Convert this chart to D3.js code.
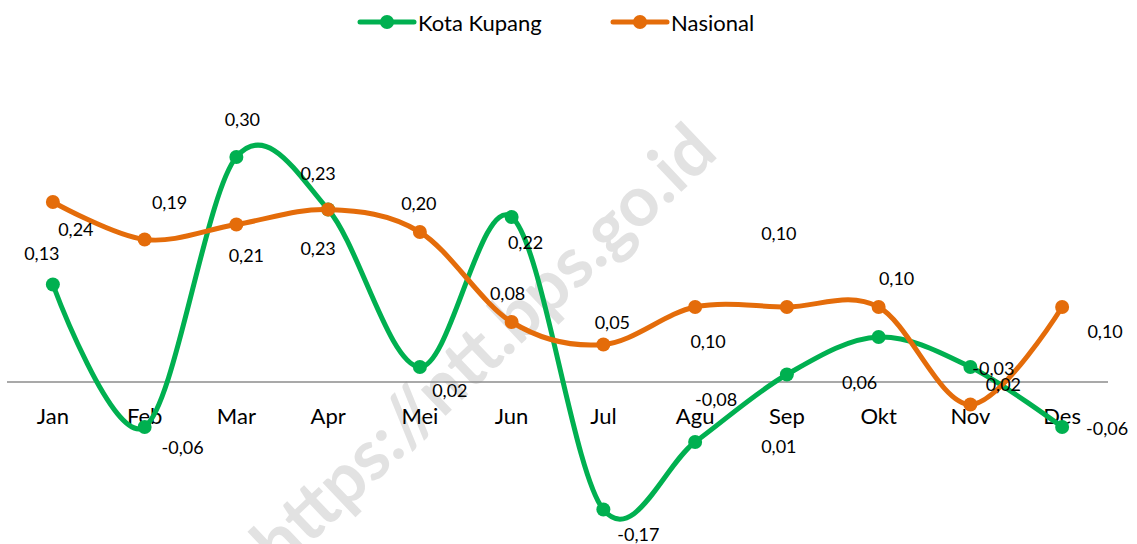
<!DOCTYPE html>
<html>
<head>
<meta charset="utf-8">
<script src="https://cdn.jsdelivr.net/npm/d3@7"></script>
<style>
  body { margin: 0; background: #fff; }
  svg text { font-family: Lato, "Open Sans", sans-serif; fill: #000; }
</style>
</head>
<body>
<svg width="1137" height="544"></svg>
<script>
var months = ["Jan", "Feb", "Mar", "Apr", "Mei", "Jun", "Jul", "Agu", "Sep", "Okt", "Nov", "Des"];
var kotaKupang = [0.13, -0.06, 0.30, 0.23, 0.02, 0.22, -0.17, -0.08, 0.01, 0.06, 0.02, -0.06];
var nasional = [0.24, 0.19, 0.21, 0.23, 0.20, 0.08, 0.05, 0.10, 0.10, 0.10, -0.03, 0.10];
var seriesNames = ["Kota Kupang", "Nasional"];

// label placement (dx, dy from the point), as in the source chart
var kotaLabelPos = [[-11,-32],[38,20],[6,-38],[-10,-37],[30,23],[14,25],[35,24],[21,-43],[-8,71],[-19,45],[33,17],[45,1]];
var nasLabelPos = [[23,27],[25,-38],[10,30],[-10,38],[-1,-29],[-4,-29],[9,-23],[13,34],[-8,-74],[18,-29],[23,-37],[43,24]];

var svg = d3.select("svg"),
    width = +svg.attr("width"),
    height = +svg.attr("height");

var x = d3.scaleBand().domain(months).range([7, 1108]);
var y = d3.scaleLinear().domain([-0.2, 0.35]).range([532, 119.5]);
var cx = function(m) { return x(m) + x.bandwidth() / 2; };

var colors = ["#00b050", "#e46c0a"];
var fmt = function(v) { return v.toFixed(2).replace(".", ","); };

// watermark
svg.append("text")
  .attr("transform", "translate(500,364) rotate(-43.5)")
  .attr("text-anchor", "middle")
  .style("font-size", "70px")
  .style("font-weight", "bold")
  .style("fill", "#e2e2e2")
  .text("https://ntt.bps.go.id");

// zero axis
svg.append("line")
  .attr("x1", 7).attr("x2", 1108)
  .attr("y1", y(0)).attr("y2", y(0))
  .attr("stroke", "#8c8c8c")
  .attr("stroke-width", 1.5);

var axis = svg.append("g")
  .attr("transform", "translate(0," + y(0) + ")")
  .call(d3.axisBottom(x).tickSize(0).tickPadding(26));
axis.select(".domain").remove();
axis.selectAll("text")
  .style("font-size", "22px")
  .style("font-family", "Lato, sans-serif")
  .attr("fill", "#000");

var line = d3.line()
  .x(function(d, i) { return cx(months[i]); })
  .y(function(d) { return y(d); })
  .curve(d3.curveCardinal.tension(0));

var all = [kotaKupang, nasional];
var labelPos = [kotaLabelPos, nasLabelPos];

all.forEach(function(vals, s) {
  svg.append("path")
    .attr("d", line(vals))
    .attr("fill", "none")
    .attr("stroke", colors[s])
    .attr("stroke-width", 5)
    .attr("stroke-linecap", "round");
  svg.selectAll(".pt" + s)
    .data(vals).enter().append("circle")
    .attr("cx", function(d, i) { return cx(months[i]); })
    .attr("cy", function(d) { return y(d); })
    .attr("r", 7)
    .attr("fill", colors[s]);
});

all.forEach(function(vals, s) {
  svg.selectAll(".lbl" + s)
    .data(vals).enter().append("text")
    .attr("x", function(d, i) { return cx(months[i]) + labelPos[s][i][0]; })
    .attr("y", function(d, i) { return y(d) + labelPos[s][i][1]; })
    .attr("text-anchor", "middle")
    .attr("dominant-baseline", "central")
    .style("font-size", "18px")
    .text(fmt);
});

// legend
var legend = svg.append("g");
var legX = [360, 613];
seriesNames.forEach(function(n, s) {
  var g = legend.append("g").attr("transform", "translate(" + legX[s] + ",22)");
  g.append("line").attr("x1", 0).attr("x2", 54).attr("y1", 0).attr("y2", 0)
    .attr("stroke", colors[s]).attr("stroke-width", 5).attr("stroke-linecap", "round");
  g.append("circle").attr("cx", 27).attr("r", 7).attr("fill", colors[s]);
  g.append("text").attr("x", 58).attr("y", 0)
    .attr("dominant-baseline", "central")
    .style("font-size", "22px")
    .text(n);
});
</script>
</body>
</html>
